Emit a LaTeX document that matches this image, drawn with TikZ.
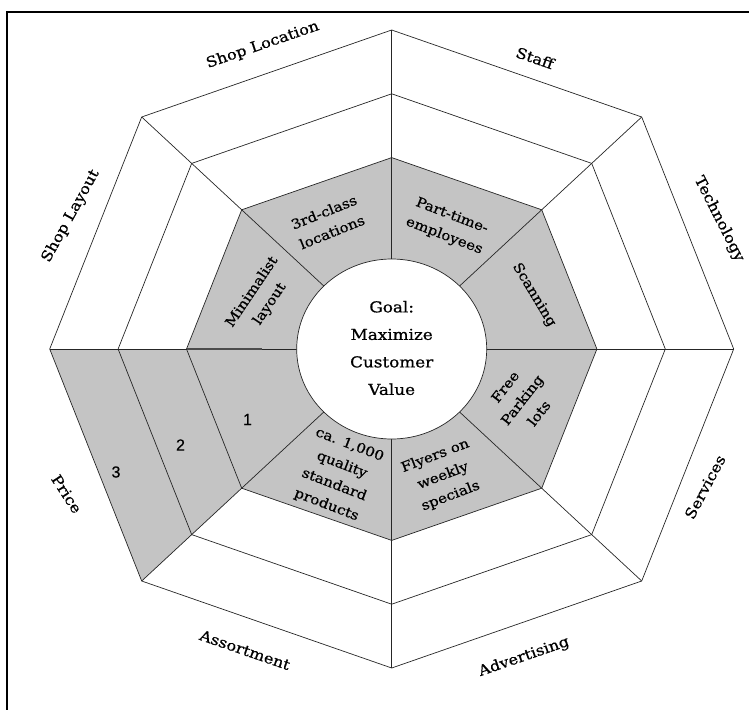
\documentclass[tikz,border=0pt]{standalone}
\usepackage{fontspec}
\setmainfont{DejaVu Serif}[FakeStretch=1.12, FakeBold=0.8]
\newfontfamily\numfont{Liberation Sans}[FakeBold=0.6]
\definecolor{wheelgray}{RGB}{196,196,196}
\begin{document}
\begin{tikzpicture}[x=1pt,y=-1pt,
  edge/.style={draw=black!85, line width=0.7pt, line join=round},
  frameline/.style={draw=black, line width=2pt},
  outerlabel/.style={font=\fontsize{14.5}{17}\selectfont, inner sep=0pt},
  innerlabel/.style={font=\fontsize{13.5}{21.5}\selectfont, align=center, inner sep=0pt},
  goaltext/.style={font=\fontsize{15}{27.5}\selectfont, align=center, inner sep=0pt},
  numlabel/.style={font=\numfont\fontsize{16}{18}\selectfont, inner sep=0pt}]
\useasboundingbox (0,0) rectangle (749,709);
\clip (0,0) rectangle (749,709);

% outer frame (only its left and top sides fall inside the page)
\draw[frameline] (7.3,11.7) rectangle (780,740);

% vertices of the three octagonal rings
\begin{scope}[shift={(391.7,349)}]
  \coordinate (C) at (0,0);
  \foreach \s/\r in {1/o,0.8/m,0.6/i}{
    \coordinate (\r-N)  at (0,-319*\s);
    \coordinate (\r-NE) at (250*\s,-232*\s);
    \coordinate (\r-E)  at (342*\s,0);
    \coordinate (\r-SE) at (250*\s,232*\s);
    \coordinate (\r-S)  at (0,319*\s);
    \coordinate (\r-SW) at (-250*\s,232*\s);
    \coordinate (\r-W)  at (-342*\s,0);
    \coordinate (\r-NW) at (-250*\s,-232*\s);
  }
\end{scope}

% shaded areas: the inner ring and the whole "Price" sector
\fill[wheelgray] (i-N) -- (i-NE) -- (i-E) -- (i-SE) -- (i-S) -- (i-SW) -- (i-W) -- (i-NW) -- cycle;
\fill[wheelgray] (C) -- (o-W) -- (o-SW) -- cycle;

% spokes
\foreach \d in {N,NE,E,SE,S,SW,W,NW}
  \draw[edge] (C) -- (o-\d);

% rings
\foreach \r in {o,m,i}
  \draw[edge] (\r-N) -- (\r-NE) -- (\r-E) -- (\r-SE) -- (\r-S) -- (\r-SW) -- (\r-W) -- (\r-NW) -- cycle;

% heavier stroke on the left spoke
\coordinate (spokeend) at (261.7,349);
\draw[line width=1.6pt, black!70] (i-W) -- (spokeend);

% central goal
\draw[edge, fill=white] (C) ellipse [x radius=95pt, y radius=90pt];
\node[goaltext] (goal) at (391.7,348) {Goal:\\Maximize\\Customer\\Value};

% outer ring labels
\node[outerlabel, rotate=19]  (lbl-loc)    at (262.7,45)  {Shop Location};
\node[outerlabel, rotate=-19] (lbl-staff)  at (535,58)    {Staff};
\node[outerlabel, rotate=-63] (lbl-tech)   at (719,219)   {Technology};
\node[outerlabel, rotate=62]  (lbl-serv)   at (705,487)   {Services};
\node[outerlabel, rotate=19]  (lbl-adv)    at (524,657)   {Advertising};
\node[outerlabel, rotate=-19] (lbl-assort) at (245,650)   {Assortment};
\node[outerlabel, rotate=-57] (lbl-price)  at (66.7,494)  {Price};
\node[outerlabel, rotate=61]  (lbl-layout) at (70.7,216)  {Shop Layout};

% inner ring entries
\node[innerlabel, rotate=22]  (t-loc)    at (328,222) {3rd-class\\locations};
\node[innerlabel, rotate=-21] (t-staff)  at (448,226) {Part-time-\\employees};
\node[innerlabel, rotate=-59] (t-scan)   at (534,295) {Scanning};
\node[innerlabel, rotate=52]  (t-park)   at (522,400) {Free\\Parking\\lots};
\node[innerlabel, rotate=21]  (t-adv)    at (443,476) {Flyers on\\weekly\\specials};
\node[innerlabel, rotate=-21] (t-assort) at (338,475) {ca. 1,000\\quality\\standard\\products};
\node[innerlabel, rotate=56]  (t-layout) at (261,298) {Minimalist\\layout};

% ring numbers in the price sector
\node[numlabel] (n1) at (247.5,419.5) {1};
\node[numlabel] (n2) at (180.5,445)   {2};
\node[numlabel] (n3) at (116,472)     {3};
\end{tikzpicture}
\end{document}
